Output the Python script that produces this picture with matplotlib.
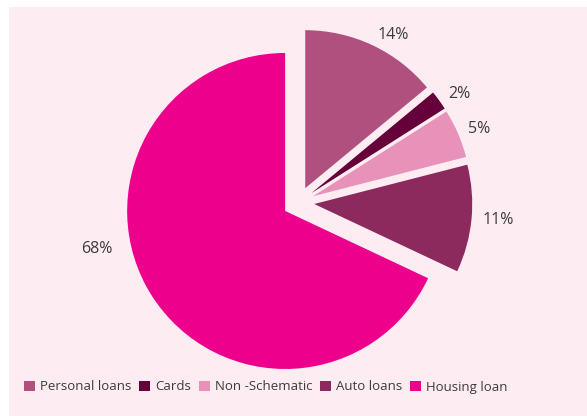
import numpy as np
import matplotlib.pyplot as plt
from matplotlib.patches import Rectangle

plt.rcParams['font.family'] = ['Open Sans', 'DejaVu Sans']

# Структура портфеля розничных кредитов
categories = ['Personal loans', 'Cards', 'Non -Schematic', 'Auto loans', 'Housing loan']
shares = [14, 2, 5, 11, 68]
colors = ['#b0507f', '#66003a', '#e891b9', '#8c2a5d', '#ec008c']

bg = '#fdecf2'
text_col = '#3c3c3c'

fig = plt.figure(figsize=(5.87, 4.16), dpi=100)
# розовая подложка с белой полоской слева и сверху
fig.patches.append(Rectangle((9 / 587, 0), 1 - 9 / 587, 1 - 7 / 416,
                             transform=fig.transFigure, facecolor=bg,
                             edgecolor='none', zorder=-10))

ax = fig.add_axes([0, 0, 1, 1])
ax.set_facecolor('none')

wedges, texts = ax.pie(shares, colors=colors, startangle=90, counterclock=False,
                       explode=[0.1] * len(shares),
                       labels=[f'{s}%' for s in shares], labeldistance=1.07,
                       textprops=dict(color=text_col, fontsize=11.5),
                       wedgeprops=dict(linewidth=0))

# подпись большого сектора сдвинута левее
theta = np.deg2rad(90 - 360 * sum(shares[:-1]) / 100 - 360 * shares[-1] / 200)
cx, cy = 0.1 * np.cos(theta), 0.1 * np.sin(theta)
a = np.deg2rad(192.5)
texts[-1].set_position((cx + 1.12 * np.cos(a), cy + 1.12 * np.sin(a)))
texts[-1].set_ha('right')

# масштаб: радиус пирога 158 px
ax.set_aspect('auto')
ax.set_xlim(-298.5 / 158, (587 - 298.5) / 158)
ax.set_ylim(-213.5 / 158, (416 - 213.5) / 158)
ax.axis('off')

fig.legend(wedges, categories, loc='center', bbox_to_anchor=(266 / 587, 1 - 387 / 416),
           ncol=5, frameon=False, fontsize=9.5, labelcolor=text_col,
           handlelength=0.8, handleheight=0.8, handletextpad=0.4,
           columnspacing=0.6, borderaxespad=0)

fig.savefig('out.png', dpi=100)
